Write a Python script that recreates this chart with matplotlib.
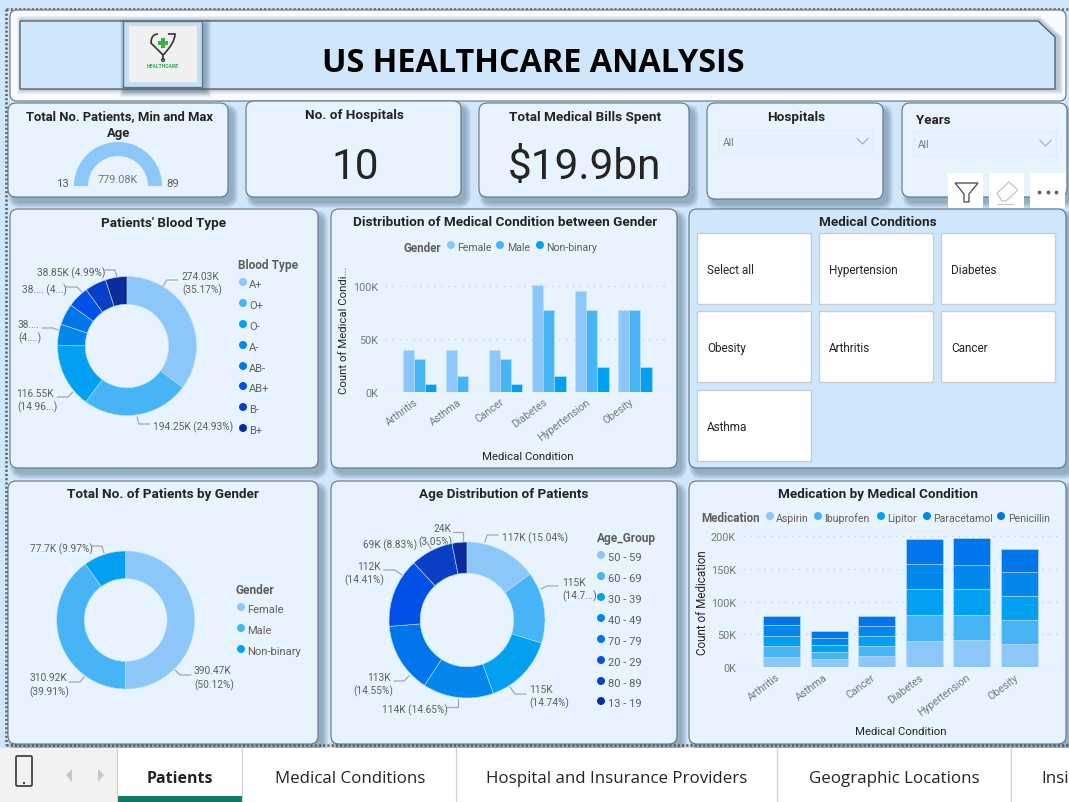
import matplotlib
matplotlib.use("Agg")
import matplotlib.pyplot as plt
from matplotlib.patches import FancyBboxPatch, Rectangle, Polygon, Wedge, Circle, PathPatch
from matplotlib.path import Path
from matplotlib.ticker import FuncFormatter
from matplotlib.transforms import ScaledTranslation

# ---------- data ----------
blood_types = ["A+", "O+", "O-", "A-", "AB-", "AB+", "B-", "B+"]
blood_values = [274.03, 194.25, 116.55, 38.85, 38.85, 38.85, 38.85, 38.85]

genders = ["Female", "Male", "Non-binary"]
gender_values = [390.47, 310.92, 77.7]

age_groups = ["50 - 59", "60 - 69", "30 - 39", "40 - 49", "70 - 79", "20 - 29", "80 - 89", "13 - 19"]
age_values = [117, 115, 115, 114, 113, 112, 69, 24]

conditions = ["Arthritis", "Asthma", "Cancer", "Diabetes", "Hypertension", "Obesity"]
cond_female = [39.5, 39.5, 39.5, 101, 95, 77.7]
cond_male = [31, 15.5, 31, 77.7, 77.7, 77.7]
cond_nonbinary = [7.8, 0, 7.8, 15.5, 23.3, 23.3]

medications = ["Aspirin", "Ibuprofen", "Lipitor", "Paracetamol", "Penicillin"]
med_aspirin = [15.7, 12.2, 17.3, 39.6, 41.1, 35.5]
med_ibuprofen = [16.3, 11.2, 14.7, 40.1, 39.1, 36.1]
med_lipitor = [15.2, 10.1, 15.2, 39.1, 38.6, 36.5]
med_paracetamol = [16.8, 10.7, 15.2, 38.1, 37.0, 36.6]
med_penicillin = [14.2, 11.1, 15.8, 38.0, 41.2, 34.5]

slicer_items = ["Select all", "Hypertension", "Diabetes", "Obesity", "Arthritis", "Cancer", "Asthma"]
tabs = ["Medical Conditions", "Hospital and Insurance Providers", "Geographic Locations"]

# ---------- style ----------
W, H = 1069, 803
PALETTE = ["#8DC6F8", "#47B4F5", "#01A0F1", "#0288EC", "#0176EA", "#0250E8", "#0B3EC6", "#0B2C9E"]
PAGE = "#CFE6FB"
CARD = "#E7F4FF"
EDGE = "#66727C"
DARK = "#252423"
GREY = "#605E5C"
FONT = "Roboto"
YOFF = 2.0

fig = plt.figure(figsize=(W / 100, H / 100), dpi=100, facecolor=PAGE)
plt.rcParams["font.family"] = [FONT, "DejaVu Sans"]


def px_axes(x0, y0, x1, y1, **kw):
    return fig.add_axes([x0 / W, 1 - y1 / H, (x1 - x0) / W, (y1 - y0) / H], **kw)


bg = px_axes(0, 0, W, H)
bg.set_xlim(0, W)
bg.set_ylim(H, 0)
bg.axis("off")


def card(x0, y0, x1, y1, fill=CARD, rad=8, shadow=True, z=2):
    if shadow:
        for grow in range(5, -1, -1):
            bg.add_patch(FancyBboxPatch((x0 + 5 - grow, y0 + 6 - grow), x1 - x0 + 2 * grow, y1 - y0 + 2 * grow,
                                        boxstyle=f"round,pad=0,rounding_size={rad + grow}",
                                        fc="#35536D", ec="none", alpha=0.075, zorder=z - 0.5))
    bg.add_patch(FancyBboxPatch((x0, y0), x1 - x0, y1 - y0, boxstyle=f"round,pad=0,rounding_size={rad}",
                                fc=fill, ec=EDGE, lw=0.8, zorder=z))


def txt(x, y, s, size=7.3, color=GREY, ha="left", weight="normal", family=None, **kw):
    return bg.text(x, y + YOFF, s, fontsize=size, color=color, ha=ha, va="center", weight=weight,
                   family=family or FONT, zorder=6, **kw)


def title(x, y, s, size=9.7):
    txt(x, y, s, size=size, color=DARK, ha="center", weight="bold")


def leader(xs, ys):
    bg.plot(xs, ys, color="#A6A6A6", lw=0.9, zorder=5, solid_capstyle="round")


def legend_v(tx, ty, name, items, dx, tx2, ys, colors):
    txt(tx, ty, name, size=8.6, color=GREY, weight="bold")
    for it, y, c in zip(items, ys, colors):
        bg.add_patch(Circle((dx, y), 4, fc=c, ec="none", zorder=6))
        txt(tx2, y, it, size=8.0)


def legend_h(y, name, nx, items, dots, texts, colors):
    txt(nx, y, name, size=8.4, color=GREY, weight="bold")
    for it, d, t, c in zip(items, dots, texts, colors):
        bg.add_patch(Circle((d, y), 4, fc=c, ec="none", zorder=6))
        txt(t, y, it, size=7.6)


def donut(cx, cy, r, ratio, values):
    ax = px_axes(cx - r, cy - r, cx + r, cy + r)
    ax.pie(values, colors=PALETTE[:len(values)], startangle=90, counterclock=False, radius=1,
           wedgeprops=dict(width=ratio, edgecolor="#BFE0FA", linewidth=0.4))
    ax.set_xlim(-1, 1)
    ax.set_ylim(-1, 1)
    ax.patch.set_alpha(0)
    return ax


# ---------- page furniture ----------
bg.add_patch(Rectangle((0, 0), W, H, fc=PAGE, ec="none", zorder=0))
for xs, ys in [((6, W), (9.5, 9.5)), ((6, 6), (9.5, 746)), ((6, W), (746, 746))]:
    bg.plot(xs, ys, color="#666666", lw=1.9, ls=(0, (0.8, 0.8)), zorder=1)

# header
card(10, 11, 1066, 102, fill="#F7FBFF", rad=7, shadow=False)
for grow in range(5, 0, -1):
    bg.add_patch(Polygon([(20 - grow + 2, 22 - grow), (1038 + 2, 22 - grow), (1056 + 2 + grow, 38),
                          (1056 + 2 + grow, 90 + grow), (20 - grow + 2, 90 + grow)],
                         fc="#35536D", ec="none", alpha=0.07, zorder=2.1))
bg.add_patch(Polygon([(20, 22), (1038, 22), (1055, 38), (1055, 90), (20, 90)], fc=PAGE, ec="#4A5864", lw=0.9, zorder=2.2))
txt(533.5, 61, "US HEALTHCARE ANALYSIS", size=23.3, color="black", ha="center", weight="bold", family="Open Sans")

# logo
for grow in range(6, 0, -1):
    bg.add_patch(Rectangle((123 + 3 - grow, 22 + 4 - grow), 79 + 2 * grow, 66 + 2 * grow, fc="#35536D", ec="none",
                           alpha=0.08, zorder=2.4))
bg.add_patch(Rectangle((123, 22), 79, 66, fc="#C8DFF3", ec="#5F7488", lw=1.0, zorder=2.5))
bg.add_patch(Rectangle((128.5, 27), 68.5, 56, fc="#F0F0F0", ec="none", zorder=2.6))
heart = Path([(158, 35), (151, 35), (151, 44), (163, 56), (175, 44), (175, 35), (168, 35)],
             [Path.MOVETO, Path.CURVE3, Path.CURVE3, Path.LINETO, Path.CURVE3, Path.CURVE3, Path.LINETO])
bg.add_patch(PathPatch(heart, fc="none", ec="#333333", lw=1.2, zorder=2.7))
bg.plot([163, 163], [56, 60], color="#333333", lw=1.2, zorder=2.7)
bg.add_patch(Circle((163, 61), 1.4, fc="none", ec="#333333", lw=0.9, zorder=2.7))
bg.add_patch(Rectangle((161.2, 39), 3.6, 10, fc="#3BB143", ec="none", zorder=2.8))
bg.add_patch(Rectangle((158, 42.2), 10, 3.6, fc="#3BB143", ec="none", zorder=2.8))
lg = txt(163, 65, "HEALTHCARE", size=3.6, color="#2FA84F", ha="center", weight="bold")
lg.set_zorder(2.9)

# KPI cards
card(8, 104, 228, 198)
title(119, 115, "Total No. Patients, Min and Max", size=9.4)
title(119, 131, "Age", size=9.4)
bg.add_patch(Wedge((118, 187), 44, 180, 360, width=14, fc=PALETTE[0], ec="none", zorder=4))
txt(69, 182, "13", size=8.2, ha="right")
txt(166, 182, "89", size=8.2)
txt(118, 178, "779.08K", size=7.8, ha="center", color="#777777")

card(246, 102, 461, 198)
title(354, 113, "No. of Hospitals")
txt(355, 165.5, "10", size=30.5, color=DARK, ha="center")

card(479, 104, 689, 198)
title(585, 116, "Total Medical Bills Spent")
txt(584, 165.5, "$19.9bn", size=30.5, color=DARK, ha="center")

card(707, 104, 883, 200)
title(796, 116, "Hospitals")
card(902, 104, 1067, 198)
txt(916, 118, "Years", size=9.6, color=DARK, weight="bold")
for (x0, x1, y0, y1) in [(718, 873, 131, 154), (913, 1056, 133, 156)]:
    bg.add_patch(Rectangle((x0, y0), x1 - x0, y1 - y0, fc="#E6F3FF", ec="#DFEDF8", lw=0.8, zorder=3))
    ym = (y0 + y1) / 2
    txt(x0 + 5, ym - 1, "All", size=7.4, color="#777777")
    bg.plot([x1 - 16, x1 - 10.5, x1 - 5], [ym - 3, ym + 2.5, ym - 3], color="#A8A8A8", lw=0.8, zorder=6)

# visual header icons
for x0 in (948, 989, 1030):
    bg.add_patch(Rectangle((x0, 174), 35, 35, fc="white", ec="none", zorder=7))
bg.add_patch(Polygon([(955, 184), (978, 184), (969, 195), (969, 203), (964, 203), (964, 195)], fc="none", ec="#555555",
                     lw=1.0, zorder=8))
bg.add_patch(Polygon([(997, 194), (1009, 183), (1018, 191), (1006, 202), (1002, 202)], fc="none", ec="#C8C8C8", lw=1.0, zorder=8))
bg.plot([998, 1013], [205, 205], color="#C8C8C8", lw=1.0, zorder=8)
bg.plot([1039, 1047.5, 1056], [193, 193, 193], ls="none", marker="o", ms=1.8, color="#666666", zorder=8)

# main cards
card(10, 210, 318, 469)
card(331, 210, 677, 469)
card(689, 210, 1066, 469, fill=PAGE)
card(8, 482, 318, 745)
card(331, 482, 677, 745)
card(689, 482, 1066, 745)

title(164, 221, "Patients' Blood Type")
title(505, 221, "Distribution of Medical Condition between Gender")
title(878, 221, "Medical Conditions")
title(163, 493, "Total No. of Patients by Gender")
title(504, 493, "Age Distribution of Patients")
title(878, 493, "Medication by Medical Condition")

# slicer
slots = [(697, 234), (819, 234), (941, 234), (697, 312), (819, 312), (941, 312), (697, 391)]
for item, (x, y) in zip(slicer_items, slots):
    bg.add_patch(Rectangle((x, y), 114, 71, fc="white", ec="#C9CDD1", lw=1.0, zorder=3))
    txt(x + 10, y + 35, item, size=8.5, color=DARK)

# ---------- blood donut ----------
donut(127, 347, 69.5, 0.4, blood_values)
leader((163, 167, 178), (287, 281, 281)); txt(182, 275, "274.03K"); txt(182, 288, "(35.17%)")
leader((137, 139, 150), (418, 425, 425)); txt(153, 425, "194.25K (24.93%)")
leader((73, 68, 57), (393, 398, 398)); txt(54, 392, "116.55K", ha="right"); txt(17, 405, "(14.96...)")
leader((58, 53, 42), (331, 329, 329)); txt(18, 323, "38...."); txt(18, 336, "(4....)")
leader((82, 77, 66), (293, 288, 288)); txt(22, 288, "38.... (4...)")
leader((117, 115, 105), (278, 271, 271)); txt(37, 271, "38.85K (4.99%)")
legend_v(238, 264, "Blood Type", blood_types, 243, 249, [283, 304, 325, 346, 367, 387, 408, 429], PALETTE)

# ---------- gender donut ----------
donut(125.7, 621, 69, 0.4, gender_values)
leader((104, 102, 92), (554, 547, 547)); txt(30, 547, "77.7K (9.97%)")
leader((175, 180, 191), (671, 676, 676)); txt(194, 669, "390.47K"); txt(194, 683, "(50.12%)")
leader((84, 80, 69), (678, 683, 683)); txt(67, 676, "310.92K", ha="right"); txt(29, 690, "(39.91%)")
legend_v(236, 589, "Gender", genders, 241, 247, [608, 629, 650], PALETTE)

# ---------- age donut ----------
donut(467, 621, 78, 0.4, age_values)
leader((485, 487, 498), (543, 536, 536)); txt(502, 536, "117K (15.04%)")
leader((541, 547, 558), (590, 587, 587)); txt(562, 581, "115K"); txt(562, 594, "(14.7...)")
leader((510, 515, 526), (688, 695, 695)); txt(529, 688, "115K"); txt(529, 701, "(14.74%)")
leader((458, 458, 447), (700, 708, 708)); txt(382, 708, "114K (14.65%)")
leader((409, 404, 394), (677, 682, 682)); txt(391, 676, "113K", ha="right"); txt(353, 689, "(14.55%)")
leader((402, 395, 384), (576, 571, 571)); txt(381, 565, "112K", ha="right"); txt(344, 578, "(14.41%)")
leader((431, 427), (550, 543)); txt(363, 543, "69K (8.83%)")
leader((463, 463, 453), (542, 533, 533)); txt(433, 527, "24K"); txt(418, 540, "(3.05%)")
legend_v(597, 537, "Age_Group", age_groups, 601, 608, [556, 577, 598, 619, 640, 661, 682, 702], PALETTE)


# ---------- bar charts ----------
def style_bar(ax, ticks):
    ax.patch.set_alpha(0)
    for s in ax.spines.values():
        s.set_visible(False)
    ax.set_yticks(ticks)
    ax.yaxis.set_major_formatter(FuncFormatter(lambda v, _: f"{v:.0f}K"))
    ax.tick_params(axis="y", length=0, labelsize=7.8, labelcolor="#777777", pad=5)
    ax.tick_params(axis="x", length=0, labelsize=7.6, labelcolor="#777777", pad=3)
    ax.grid(axis="y", color="#C8D0D6", lw=1.0, ls=(0, (1, 4)))
    ax.set_axisbelow(True)
    ax.set_xticks(range(len(conditions)))
    ax.set_xticklabels(conditions, rotation=37, ha="right", rotation_mode="anchor", color="#777777")
    shift = ScaledTranslation(-4 / 72, 0, fig.dpi_scale_trans)
    for lab in ax.get_xticklabels():
        lab.set_transform(lab.get_transform() + shift)


# gender by condition
ax1 = px_axes(385, 270, 667, 393)
ax1.set_xlim(-0.80, 5.746)
ax1.set_ylim(0, 116)
style_bar(ax1, [0, 50, 100])
bw = 0.26
for i, (vals, c) in enumerate(zip([cond_female, cond_male, cond_nonbinary], PALETTE)):
    ax1.bar([k + (i - 1) * bw for k in range(len(conditions))], vals, width=bw, color=c, edgecolor="#BFE0FA", linewidth=0.4)
txt(344, 328, "Count of Medical Condi...", size=8.2, color=DARK, ha="center", rotation=90)
txt(528, 455, "Medical Condition", size=8.2, color=DARK, ha="center")
legend_h(246, "Gender", 403, genders, [451, 500, 540], [457, 507, 546], PALETTE)

# medication by condition
ax2 = px_axes(743, 525, 1058, 668.3)
ax2.set_xlim(-0.81, 5.81)
ax2.set_ylim(0, 217.8)
style_bar(ax2, [0, 50, 100, 150, 200])
bottom = [0.0] * len(conditions)
for vals, c in zip([med_aspirin, med_ibuprofen, med_lipitor, med_paracetamol, med_penicillin], PALETTE):
    ax2.bar(range(len(conditions)), vals, bottom=bottom, width=0.777, color=c, edgecolor="#BFE0FA", linewidth=0.4)
    bottom = [b + v for b, v in zip(bottom, vals)]
txt(703, 601, "Count of Medication", size=8.4, color=DARK, ha="center", rotation=90)
txt(901, 730, "Medical Condition", size=8.2, color=DARK, ha="center")
legend_h(517, "Medication", 701, medications, [770, 818, 881, 927, 1001], [776, 824, 887, 933, 1008],
         [PALETTE[0], PALETTE[1], PALETTE[2], PALETTE[3], PALETTE[4]])

# ---------- tab bar ----------
bg.add_patch(Rectangle((0, 749), 117, 54, fc="#F3F2F1", ec="none", zorder=8))
bg.add_patch(Rectangle((117, 749), W - 117, 54, fc="white", ec="none", zorder=8))
bg.add_patch(Rectangle((117, 797), 125, 6, fc="#117865", ec="none", zorder=9))
for x in (117, 242, 456, 777, 1011):
    bg.plot([x, x], [749, 803], color="#D2D0CE", lw=0.9, zorder=9)
bg.add_patch(FancyBboxPatch((16, 757), 16, 30, boxstyle="round,pad=0,rounding_size=1.5", fc="none", ec="#444444", lw=1.3, zorder=9))
bg.add_patch(Rectangle((23.3, 783), 1.6, 1.6, fc="#444444", ec="none", zorder=9))
bg.add_patch(Polygon([(72, 770), (66, 776), (72, 783)], fc="#C8C6C4", ec="none", zorder=9))
bg.add_patch(Polygon([(98, 770), (104, 776), (98, 783)], fc="#C8C6C4", ec="none", zorder=9))


def tab(x, s, ha="center", weight="normal", size=12.2):
    t = txt(x, 777.5, s, size=size, color=DARK, ha=ha, weight=weight, family="Open Sans")
    t.set_zorder(10)


tab(179.5, "Patients", weight="bold", size=11.5)
tab(350, tabs[0])
tab(617, tabs[1])
tab(894, tabs[2])
tab(1041, "Insi", ha="left")

fig.savefig("out.png", dpi=100, facecolor=PAGE)
